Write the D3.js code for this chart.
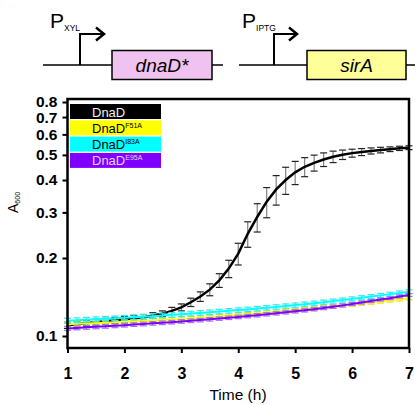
<!DOCTYPE html>
<html>
<head>
<meta charset="utf-8">
<script src="https://cdn.jsdelivr.net/npm/d3@7"></script>
<style>
  body { margin: 0; background: #fff; }
  svg { display: block; font-family: "Liberation Sans", Arial, sans-serif; }
</style>
</head>
<body>
<div class="chart"></div>
<script>
// sampling times (minutes after start)
const minutes = [60, 70, 80, 90, 100, 110, 120, 130, 140, 150, 160, 170, 180, 190, 200, 210, 220, 230, 240, 250,
  260, 270, 280, 290, 300, 310, 320, 330, 340, 350, 360, 370, 380, 390, 400, 410, 420]

// A600 readings
const dnaD = [0.110, 0.111, 0.112, 0.113, 0.114, 0.115, 0.116, 0.117, 0.118, 0.120, 0.122, 0.125, 0.129, 0.135,
  0.142, 0.151, 0.164, 0.182, 0.208, 0.248, 0.288, 0.330, 0.368, 0.400, 0.428, 0.450, 0.466, 0.480, 0.492, 0.501,
  0.508, 0.513, 0.518, 0.522, 0.526, 0.530, 0.533]
const dnaDErr = [0.003, 0.003, 0.003, 0.003, 0.003, 0.003, 0.003, 0.003, 0.003, 0.003, 0.003, 0.004, 0.004, 0.005,
  0.006, 0.008, 0.010, 0.014, 0.020, 0.028, 0.036, 0.044, 0.048, 0.048, 0.044, 0.038, 0.033, 0.029, 0.025, 0.021,
  0.018, 0.016, 0.014, 0.013, 0.011, 0.010, 0.009]
const f51a = [0.1110, 0.1114, 0.1118, 0.1122, 0.1126, 0.1130, 0.1134, 0.1138, 0.1143, 0.1148, 0.1153, 0.1158, 0.1164,
  0.1170, 0.1176, 0.1183, 0.1190, 0.1197, 0.1205, 0.1213, 0.1221, 0.1230, 0.1239, 0.1248, 0.1258, 0.1268, 0.1278,
  0.1289, 0.1300, 0.1311, 0.1323, 0.1335, 0.1347, 0.1360, 0.1373, 0.1386, 0.1400]
const i83a = [0.1145, 0.1150, 0.1155, 0.1160, 0.1165, 0.1170, 0.1175, 0.1181, 0.1187, 0.1193, 0.1200, 0.1207, 0.1214,
  0.1221, 0.1228, 0.1235, 0.1243, 0.1251, 0.1259, 0.1267, 0.1276, 0.1285, 0.1295, 0.1305, 0.1316, 0.1327, 0.1339,
  0.1351, 0.1364, 0.1377, 0.1391, 0.1405, 0.1420, 0.1435, 0.1451, 0.1467, 0.1483]
const e95a = [0.1070, 0.1075, 0.1080, 0.1085, 0.1090, 0.1095, 0.1101, 0.1107, 0.1113, 0.1119, 0.1125, 0.1131, 0.1138,
  0.1145, 0.1152, 0.1160, 0.1168, 0.1176, 0.1185, 0.1194, 0.1203, 0.1213, 0.1223, 0.1234, 0.1245, 0.1256, 0.1268,
  0.1282, 0.1297, 0.1313, 0.1330, 0.1347, 0.1364, 0.1382, 0.1400, 0.1420, 0.1440]
// the mutants have tiny, roughly constant error bars
const mutantErr = [0.0020, 0.0025, 0.0018]

const seriesNames = ['DnaD', 'DnaD', 'DnaD', 'DnaD']
const seriesSup = ['', 'F51A', 'I83A', 'E95A']
const seriesColors = ['#000000', '#ffff00', '#00ffff', '#8000ff']
const legendText = ['#f2f2f2', '#000000', '#000000', '#e4d6ff']

const xTicks = [1, 2, 3, 4, 5, 6, 7]
const yTicks = [0.1, 0.2, 0.3, 0.4, 0.5, 0.6, 0.7, 0.8]

const width = 415
const height = 405

const svg = d3.select('.chart').append('svg')
  .attr('width', width)
  .attr('height', height)

// ---- construct diagram at the top ----
const diagram = svg.append('g')

// panel letter, mostly cut off by the left edge as in the source figure
diagram.append('text')
  .attr('x', -13).attr('y', 20)
  .attr('font-size', 22).attr('font-weight', 'bold')
  .text('F')

function construct (x0, promoterX, arrowEnd, boxX0, boxX1, fill, label, prom, promX, lineEnd) {
  diagram.append('line')
    .attr('x1', x0).attr('x2', boxX0).attr('y1', 65).attr('y2', 65)
    .attr('stroke', '#000').attr('stroke-width', 1.5)
  diagram.append('line')
    .attr('x1', boxX1).attr('x2', lineEnd).attr('y1', 65).attr('y2', 65)
    .attr('stroke', '#000').attr('stroke-width', 1.5)
  diagram.append('path')
    .attr('d', `M${promoterX},65 V34 H${arrowEnd}`)
    .attr('fill', 'none').attr('stroke', '#000').attr('stroke-width', 2)
  diagram.append('path')
    .attr('d', `M${arrowEnd - 8},27.5 L${arrowEnd},34 L${arrowEnd - 8},40.5`)
    .attr('fill', 'none').attr('stroke', '#000').attr('stroke-width', 2.5)
  diagram.append('rect')
    .attr('x', boxX0).attr('y', 50.5)
    .attr('width', boxX1 - boxX0).attr('height', 29)
    .attr('fill', fill).attr('stroke', '#000').attr('stroke-width', 1.5)
  diagram.append('text')
    .attr('x', (boxX0 + boxX1) / 2).attr('y', 72)
    .attr('text-anchor', 'middle')
    .attr('font-size', 19).attr('font-style', 'italic')
    .text(label)
  const p = diagram.append('text')
    .attr('x', promX).attr('y', 28)
    .attr('font-size', 21)
  p.append('tspan').text('P')
  p.append('tspan').attr('font-size', 8.5).attr('dy', 3).text(prom)
}

construct(43, 80, 104, 112, 212, '#f0c2f0', 'dnaD*', 'XYL', 50, 223)
construct(239, 274, 297, 307, 406, '#ffff99', 'sirA', 'IPTG', 242, 416)

// ---- growth curves ----
const x = d3.scaleLinear().domain([1, 7]).range([67.5, 409])
const y = d3.scaleLog().domain([0.0899, 0.8217]).range([348, 99])

const hours = minutes.map(m => m / 60)

const series = [
  { values: dnaD, err: dnaDErr, color: seriesColors[0], bar: '#808080', cap: '#222', width: 2.5 },
  { values: f51a, err: minutes.map(() => mutantErr[0]), color: seriesColors[1], bar: '#e6e600', cap: '#e6e600', width: 2 },
  { values: i83a, err: minutes.map(() => mutantErr[1]), color: seriesColors[2], bar: '#33e8f0', cap: '#33e8f0', width: 2 },
  { values: e95a, err: minutes.map(() => mutantErr[2]), color: seriesColors[3], bar: '#a070ff', cap: '#a070ff', width: 2 }
]

const line = d3.line()
  .x((d, i) => x(hours[i]))
  .y(d => y(d))

const plot = svg.append('g')

series.forEach(s => {
  const g = plot.append('g')
  const bars = g.selectAll('g.bar')
    .data(s.values)
    .enter()
    .append('g')
    .attr('stroke-width', 1.2)
  bars.append('line')
    .attr('stroke', s.bar)
    .attr('x1', (d, i) => x(hours[i])).attr('x2', (d, i) => x(hours[i]))
    .attr('y1', (d, i) => y(d - s.err[i])).attr('y2', (d, i) => y(d + s.err[i]))
  bars.append('line')
    .attr('stroke', s.cap)
    .attr('x1', (d, i) => x(hours[i]) - 3.5).attr('x2', (d, i) => x(hours[i]) + 3.5)
    .attr('y1', (d, i) => y(d + s.err[i])).attr('y2', (d, i) => y(d + s.err[i]))
  bars.append('line')
    .attr('stroke', s.cap)
    .attr('x1', (d, i) => x(hours[i]) - 3.5).attr('x2', (d, i) => x(hours[i]) + 3.5)
    .attr('y1', (d, i) => y(d - s.err[i])).attr('y2', (d, i) => y(d - s.err[i]))
  g.append('path')
    .attr('d', line(s.values))
    .attr('fill', 'none')
    .attr('stroke', s.color)
    .attr('stroke-width', s.width)
})

// ---- frame and axes ----
svg.append('rect')
  .attr('x', 67.5).attr('y', 99)
  .attr('width', 409 - 67.5).attr('height', 348 - 99)
  .attr('fill', 'none').attr('stroke', '#000').attr('stroke-width', 2.5)

const xAxis = svg.append('g')
  .attr('transform', 'translate(0,348)')
  .call(d3.axisBottom(x).tickValues(xTicks).tickSize(5).tickPadding(15).tickFormat(d3.format('d')))
xAxis.select('.domain').remove()
xAxis.selectAll('line').attr('stroke-width', 2)
xAxis.selectAll('text')
  .attr('font-size', 16).attr('font-weight', 'bold')
  .attr('font-family', null).attr('fill', '#000')

const yAxis = svg.append('g')
  .attr('transform', 'translate(67.5,0)')
  .call(d3.axisLeft(y).tickValues(yTicks).tickSize(5).tickPadding(5).tickFormat(d3.format('.1f')))
yAxis.select('.domain').remove()
yAxis.selectAll('line').attr('stroke-width', 2)
yAxis.selectAll('text')
  .attr('font-size', 15.5).attr('font-weight', 'bold')
  .attr('font-family', null).attr('fill', '#000')

svg.append('text')
  .attr('x', 238).attr('y', 400)
  .attr('text-anchor', 'middle')
  .attr('font-size', 15.5)
  .text('Time (h)')

const yl = svg.append('text')
  .attr('transform', 'translate(18,213) rotate(-90)')
  .attr('font-size', 14)
yl.append('tspan').text('A')
yl.append('tspan').attr('font-size', 7).attr('dy', 2).text('600')

// ---- legend ----
const legend = svg.append('g').attr('transform', 'translate(70,104)')
const rows = legend.selectAll('g')
  .data(seriesNames)
  .enter()
  .append('g')
  .attr('transform', (d, i) => `translate(0,${i * 16.3})`)
rows.append('rect')
  .attr('width', 91).attr('height', 15)
  .attr('fill', (d, i) => seriesColors[i])
const lt = rows.append('text')
  .attr('x', 22).attr('y', 12.5)
  .attr('font-size', 13)
  .attr('fill', (d, i) => legendText[i])
lt.append('tspan').text(d => d)
lt.append('tspan').attr('font-size', 7).attr('dy', -5).text((d, i) => seriesSup[i])
</script>
</body>
</html>
